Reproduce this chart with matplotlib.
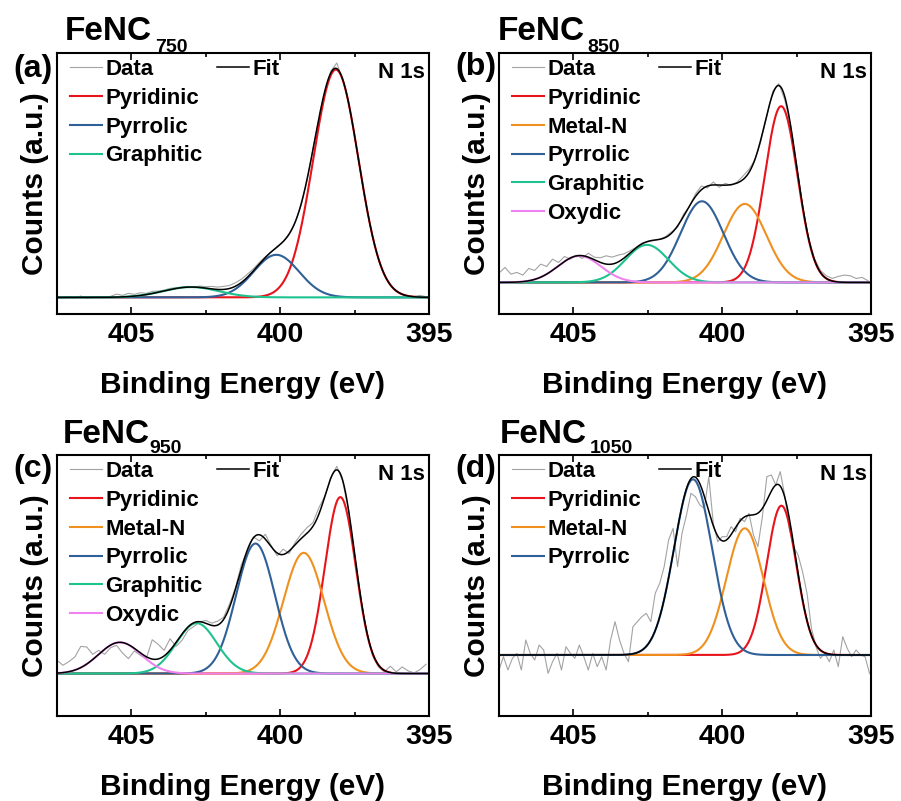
import numpy as np
import matplotlib
matplotlib.use("Agg")
import matplotlib.pyplot as plt

plt.rcParams["font.family"] = ["Liberation Sans", "DejaVu Sans"]
plt.rcParams["font.weight"] = "bold"

# ---------------------------------------------------------------- data
# binding-energy grids of the measured N 1s spectra (eV)
energy_abc = np.round(np.arange(407.5, 395.05, -0.2), 2)   # 63 points
energy_d = np.round(np.arange(407.5, 395.0, -0.15), 2)     # 84 points

counts_750 = [
    0.00, -0.03, 0.02, -0.02, 0.04, -0.03, 0.01, 0.02, 0.00, 0.03,
    0.10, 0.06, 0.12, 0.09, 0.14, 0.12, 0.18, 0.19, 0.22, 0.27,
    0.29, 0.31, 0.33, 0.31, 0.34, 0.32, 0.33, 0.31, 0.33, 0.36,
    0.44, 0.55, 0.70, 0.86, 1.05, 1.22, 1.38, 1.50, 1.68, 1.92,
    2.25, 2.75, 3.50, 4.45, 5.35, 6.15, 6.80, 7.05, 6.55, 5.85,
    4.85, 3.75, 2.70, 1.85, 1.15, 0.68, 0.38, 0.20, 0.10, 0.05,
    0.03, 0.06, 0.02]

counts_850 = [
    0.28, 0.45, 0.25, 0.30, 0.22, 0.42, 0.36, 0.55, 0.48, 0.70,
    0.60, 0.78, 0.70, 0.82, 0.72, 0.88, 0.76, 0.74, 0.80, 0.76,
    0.82, 0.86, 0.95, 1.05, 1.18, 1.22, 1.26, 1.30, 1.38, 1.52,
    1.66, 2.05, 2.28, 2.66, 2.90, 2.84, 3.02, 2.86, 2.98, 2.92,
    3.02, 3.20, 3.40, 3.68, 4.25, 5.00, 5.75, 5.98, 5.50, 4.70,
    3.55, 2.30, 1.35, 0.72, 0.36, 0.20, 0.12, 0.18, 0.22, 0.20,
    0.12, 0.15, 0.05]

counts_950 = [
    0.40, 0.25, 0.36, 0.50, 0.82, 0.80, 0.58, 0.70, 0.58, 0.78,
    0.85, 0.62, 0.45, 0.68, 0.55, 0.45, 1.02, 0.88, 0.70, 1.05,
    0.82, 1.00, 1.30, 1.42, 1.56, 1.60, 1.52, 1.58, 1.70, 2.10,
    2.60, 3.30, 3.70, 4.12, 4.00, 4.20, 3.85, 3.55, 3.75, 3.62,
    3.95, 4.20, 4.40, 4.55, 5.00, 5.35, 5.90, 6.25, 5.80, 4.90,
    3.60, 2.30, 1.25, 0.55, 0.20, 0.05, 0.22, 0.05, 0.20, 0.08,
    0.02, 0.12, 0.28]

counts_1050 = [
    -0.45, -0.05, -0.45, -0.10, 0.05, -0.45, 0.45, 0.05, -0.15, 0.30,
    0.15, -0.55, -0.20, 0.05, -0.45, 0.25, 0.05, -0.10, 0.30, -0.05,
    -0.45, 0.05, -0.35, -0.05, -0.45, 0.45, 1.00, 0.45, 0.05, -0.20,
    0.85, 1.00, 1.15, 1.25, 1.00, 1.85, 2.15, 2.65, 3.45, 3.80,
    2.65, 3.65, 4.20, 4.85, 4.75, 4.50, 4.40, 5.35, 3.95, 3.40,
    3.55, 3.55, 3.85, 3.70, 4.10, 4.00, 4.25, 3.60, 3.25, 4.15,
    5.35, 5.40, 5.10, 5.50, 4.80, 3.80, 3.25, 3.00, 2.50, 1.85,
    0.80, 0.25, -0.10, 0.05, -0.20, 0.15, -0.35, 0.55, 0.20, -0.05,
    0.15, 0.00, -0.05, -0.55]

# fitted Gaussian components: centre (eV), height, sigma (eV)
names_750 = ["Pyridinic", "Pyrrolic", "Graphitic"]
centers_750 = [398.13, 400.13, 403.00]
heights_750 = [6.85, 1.28, 0.31]
sigmas_750 = [0.76, 0.76, 0.93]

names_850 = ["Pyridinic", "Metal-N", "Pyrrolic", "Graphitic", "Oxydic"]
centers_850 = [398.02, 399.24, 400.68, 402.53, 404.80]
heights_850 = [5.30, 2.36, 2.44, 1.13, 0.80]
sigmas_850 = [0.55, 0.72, 0.72, 0.72, 0.72]

names_950 = ["Pyridinic", "Metal-N", "Pyrrolic", "Graphitic", "Oxydic"]
centers_950 = [397.98, 399.21, 400.83, 402.81, 405.39]
heights_950 = [5.32, 3.64, 3.92, 1.52, 0.94]
sigmas_950 = [0.52, 0.68, 0.65, 0.68, 0.72]

names_1050 = ["Pyridinic", "Metal-N", "Pyrrolic"]
centers_1050 = [398.01, 399.24, 400.98]
heights_1050 = [4.48, 3.80, 5.27]
sigmas_1050 = [0.50, 0.62, 0.64]

samples = ["750", "850", "950", "1050"]
panel_tags = ["(a)", "(b)", "(c)", "(d)"]

# ---------------------------------------------------------------- style
colors = {
    "Pyridinic": "#e8141c",
    "Metal-N": "#f0901e",
    "Pyrrolic": "#2f6098",
    "Graphitic": "#1ec28e",
    "Oxydic": "#ee82ee",
}
W, H = 901, 801
fig = plt.figure(figsize=(W / 100, H / 100), dpi=100)


def fig_box(x0, y0, x1, y1):
    """Axes rectangle from pixel edges (origin at top-left)."""
    return [x0 / W, 1 - y1 / H, (x1 - x0) / W, (y1 - y0) / H]


panels = [
    dict(box=fig_box(57, 53, 429, 314), E=energy_abc, y=counts_750,
         names=names_750, c=centers_750, h=heights_750, s=sigmas_750,
         ylim=(-0.50, 7.35), tag_xy=(13, 69), title_xy=(65, 40), sub_xy=(155, 52)),
    dict(box=fig_box(499, 53, 871, 314), E=energy_abc, y=counts_850,
         names=names_850, c=centers_850, h=heights_850, s=sigmas_850,
         ylim=(-0.95, 6.90), tag_xy=(455, 67), title_xy=(498, 40), sub_xy=(587, 52)),
    dict(box=fig_box(57, 455, 429, 716), E=energy_abc, y=counts_950,
         names=names_950, c=centers_950, h=heights_950, s=sigmas_950,
         ylim=(-1.28, 6.59), tag_xy=(13, 469), title_xy=(63, 443), sub_xy=(149, 453)),
    dict(box=fig_box(499, 455, 871, 716), E=energy_d, y=counts_1050,
         names=names_1050, c=centers_1050, h=heights_1050, s=sigmas_1050,
         ylim=(-1.83, 6.00), tag_xy=(455, 469), title_xy=(500, 443), sub_xy=(590, 453)),
]

e_fine = np.linspace(407.5, 395.0, 1000)
leg_kw = dict(frameon=False, handlelength=1.45, handletextpad=0.15,
              borderpad=0, borderaxespad=0, labelspacing=0.35,
              prop=dict(weight="bold", size=16))

for p, sample, tag in zip(panels, samples, panel_tags):
    ax = fig.add_axes(p["box"])
    data_line, = ax.plot(p["E"], p["y"], color="#a3a3a3", lw=0.8, zorder=1)
    total = np.zeros_like(e_fine)
    handles = [data_line]
    for name, c, h, s in zip(p["names"], p["c"], p["h"], p["s"]):
        comp = h * np.exp(-(e_fine - c) ** 2 / (2 * s * s))
        total += comp
        ln, = ax.plot(e_fine, comp, color=colors[name], lw=1.5, zorder=2)
        handles.append(ln)
    fit_line, = ax.plot(e_fine, total, color="black", lw=1.1, zorder=3)

    ax.set_xlim(407.5, 395.0)
    ax.set_ylim(*p["ylim"])
    ax.set_yticks([])
    ax.set_xticks([405, 400, 395])
    ax.set_xticks([402.5, 397.5], minor=True)
    ax.tick_params(axis="x", which="both", direction="in", top=True,
                   width=1.2, labelsize=20.5, pad=6)
    ax.tick_params(axis="x", which="major", length=5)
    ax.tick_params(axis="x", which="minor", length=3)
    for lab in ax.get_xticklabels():
        lab.set_fontweight("bold")
    for sp in ax.spines.values():
        sp.set_linewidth(1.5)
    ax.set_xlabel("Binding Energy (eV)", fontsize=21.5, fontweight="bold", labelpad=16)
    ax.set_ylabel("Counts (a.u.)", fontsize=21.5, fontweight="bold", labelpad=6)

    leg = ax.legend(handles, ["Data"] + p["names"], loc="upper left",
                    bbox_to_anchor=(13 / 372, 1 - 6 / 261), **leg_kw)
    ax.add_artist(leg)
    ax.legend([fit_line], ["Fit"], loc="upper left",
              bbox_to_anchor=(160 / 372, 1 - 6 / 261), **leg_kw)
    ax.text(0.99, 1 - 20 / 261, "N 1s", transform=ax.transAxes, ha="right", va="center",
            fontsize=16, fontweight="bold")

    tx, ty = p["tag_xy"]
    fig.text(tx / W, 1 - ty / H, tag, fontsize=23, fontweight="bold", va="center", ha="left")
    fx, fy = p["title_xy"]
    fig.text(fx / W, 1 - fy / H, "FeNC", fontsize=24, fontweight="bold", va="baseline", ha="left")
    sx, sy = p["sub_xy"]
    fig.text(sx / W, 1 - sy / H, sample, fontsize=14, fontweight="bold", va="baseline", ha="left")

fig.savefig("out.png", dpi=100)
